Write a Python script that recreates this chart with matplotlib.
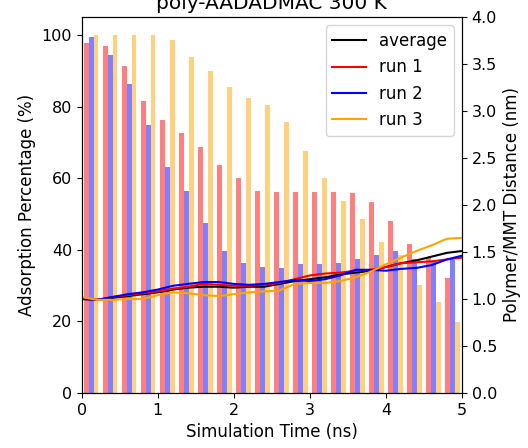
import numpy as np
import matplotlib
matplotlib.use('Agg')
import matplotlib.pyplot as plt

# Adsorption percentage per 0.25 ns window (bars)
bin_time = np.arange(20) * 0.25 + 0.125
ads_run1 = [97.8, 96.9, 91.3, 81.6, 76.1, 72.7, 68.8, 63.7, 60.0, 56.4,
            56.1, 56.0, 56.0, 56.0, 55.8, 53.4, 48.0, 41.7, 38.0, 32.0]
ads_run2 = [99.3, 94.4, 86.2, 74.7, 63.2, 56.4, 47.4, 39.6, 36.3, 35.2,
            34.9, 36.0, 36.0, 36.4, 37.3, 38.6, 39.5, 37.5, 36.5, 37.1]
ads_run3 = [100, 100, 100, 100, 98.6, 93.9, 90.0, 85.5, 82.5, 80.4,
            75.8, 67.7, 60.0, 53.7, 48.6, 42.1, 38.5, 30.2, 25.5, 19.7]

# Polymer/MMT distance (lines)
time = np.arange(26) * 0.2
dist_avg = [1.00, 0.99, 1.01, 1.03, 1.05, 1.07, 1.10, 1.12, 1.13, 1.13, 1.12, 1.13, 1.13,
            1.16, 1.19, 1.21, 1.23, 1.26, 1.28, 1.30, 1.34, 1.38, 1.41, 1.45, 1.49, 1.51]
dist_run1 = [1.00, 0.99, 1.02, 1.04, 1.06, 1.08, 1.11, 1.13, 1.16, 1.15, 1.14, 1.14, 1.15,
             1.17, 1.21, 1.25, 1.27, 1.28, 1.30, 1.31, 1.34, 1.38, 1.39, 1.40, 1.42, 1.44]
dist_run2 = [1.00, 0.99, 1.02, 1.05, 1.07, 1.10, 1.14, 1.16, 1.18, 1.18, 1.16, 1.15, 1.16,
             1.18, 1.20, 1.19, 1.21, 1.25, 1.31, 1.31, 1.30, 1.32, 1.33, 1.36, 1.42, 1.46]
dist_run3 = [1.02, 0.99, 0.99, 1.00, 1.00, 1.04, 1.07, 1.06, 1.04, 1.03, 1.05, 1.07, 1.08,
             1.09, 1.16, 1.17, 1.17, 1.19, 1.23, 1.29, 1.37, 1.44, 1.51, 1.57, 1.64, 1.65]

fig = plt.figure(figsize=(5.28, 4.48), dpi=100)
ax = fig.add_axes([0.155, 0.123, 0.72, 0.839])
w = 0.0625
ax.bar(bin_time - w, ads_run1, width=w, color='red', alpha=0.5)
ax.bar(bin_time, ads_run2, width=w, color='blue', alpha=0.5)
ax.bar(bin_time + w, ads_run3, width=w, color='orange', alpha=0.5)
ax.set_xlim(0, 5)
ax.set_ylim(0, 105)
ax.set_xlabel('Simulation Time (ns)', fontsize=12)
ax.set_ylabel('Adsorption Percentage (%)', fontsize=12)
ax.tick_params(labelsize=11.5)
ax.set_title('poly-AADADMAC 300 K', fontsize=14.5)

ax2 = ax.twinx()
ax2.plot(time, dist_avg, color='black', lw=1.5, label='average')
ax2.plot(time, dist_run1, color='red', lw=1.5, label='run 1')
ax2.plot(time, dist_run2, color='blue', lw=1.5, label='run 2')
ax2.plot(time, dist_run3, color='orange', lw=1.5, label='run 3')
ax2.set_ylim(0, 4.0)
ax2.set_ylabel('Polymer/MMT Distance (nm)', fontsize=12)
ax2.tick_params(labelsize=11.5)
ax2.legend(loc='upper right', fontsize=12)

plt.savefig('out.png', dpi=100)
